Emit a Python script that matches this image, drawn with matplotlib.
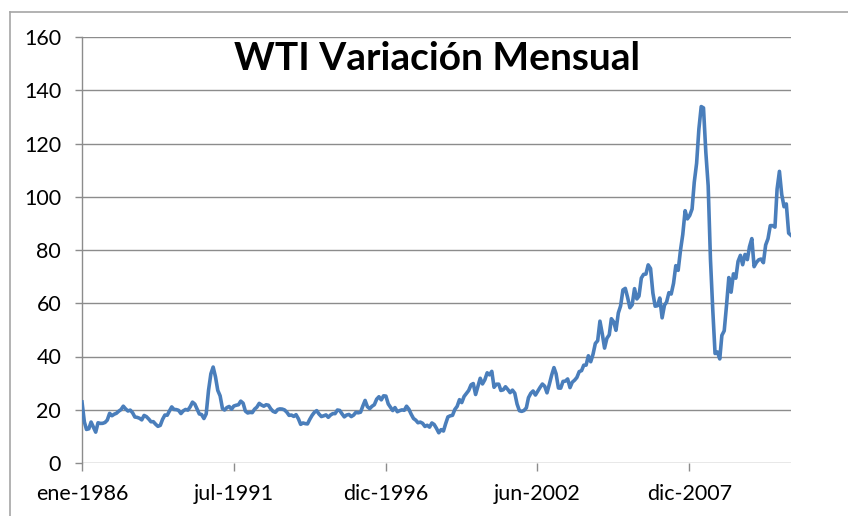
import numpy as np
import matplotlib
matplotlib.use('Agg')
import matplotlib.pyplot as plt
from matplotlib.lines import Line2D

# ── data: WTI monthly average price (USD/bbl), ene-1986 .. sep-2011 ──
wti_1986 = [22.93, 15.46, 12.61, 12.84, 15.38, 13.43, 11.59, 15.10, 14.87, 14.90, 15.22, 16.11]
wti_1987 = [18.65, 17.75, 18.30, 18.68, 19.44, 20.07, 21.34, 20.31, 19.53, 19.86, 18.85, 17.28]
wti_1988 = [17.13, 16.80, 16.20, 17.86, 17.42, 16.53, 15.50, 15.52, 14.54, 13.77, 14.14, 16.38]
wti_1989 = [18.02, 17.94, 19.48, 21.07, 20.12, 20.05, 19.78, 18.58, 19.59, 20.10, 19.86, 21.10]
wti_1990 = [22.86, 22.11, 20.39, 18.43, 18.20, 16.70, 18.45, 27.31, 33.51, 36.04, 32.33, 27.28]
wti_1991 = [25.23, 20.48, 19.90, 20.83, 21.23, 20.19, 21.40, 21.69, 21.89, 23.23, 22.46, 19.50]
wti_1992 = [18.79, 19.01, 18.92, 20.23, 20.98, 22.39, 21.78, 21.34, 21.88, 21.69, 20.34, 19.41]
wti_1993 = [19.03, 20.09, 20.32, 20.25, 19.95, 19.09, 17.89, 18.01, 17.50, 18.15, 16.61, 14.52]
wti_1994 = [15.03, 14.78, 14.68, 16.42, 17.89, 19.06, 19.66, 18.38, 17.45, 17.72, 18.07, 17.16]
wti_1995 = [18.04, 18.57, 18.54, 19.90, 19.74, 18.45, 17.33, 18.02, 18.23, 17.43, 17.99, 19.03]
wti_1996 = [18.85, 19.09, 21.33, 23.50, 21.17, 20.42, 21.30, 21.90, 23.97, 24.88, 23.71, 25.23]
wti_1997 = [25.13, 22.18, 20.97, 19.70, 20.82, 19.26, 19.66, 19.95, 19.80, 21.33, 20.19, 18.33]
wti_1998 = [16.72, 16.06, 15.12, 15.35, 14.91, 13.72, 14.17, 13.47, 15.03, 14.46, 13.00, 11.35]
wti_1999 = [12.52, 12.01, 14.68, 17.31, 17.72, 17.92, 20.10, 21.28, 23.80, 22.69, 25.00, 26.10]
wti_2000 = [27.26, 29.37, 29.84, 25.72, 28.79, 31.82, 29.70, 31.26, 33.88, 33.11, 34.42, 28.44]
wti_2001 = [29.59, 29.61, 27.25, 27.49, 28.63, 27.60, 26.43, 27.37, 26.20, 22.17, 19.64, 19.39]
wti_2002 = [19.72, 20.72, 24.53, 26.18, 27.04, 25.52, 26.97, 28.39, 29.66, 28.84, 26.35, 29.46]
wti_2003 = [32.95, 35.83, 33.51, 28.17, 28.11, 30.66, 30.75, 31.57, 28.31, 30.34, 31.11, 32.13]
wti_2004 = [34.31, 34.69, 36.74, 36.75, 40.28, 38.03, 40.78, 44.90, 45.94, 53.28, 48.47, 43.15]
wti_2005 = [46.84, 48.15, 54.19, 52.98, 49.83, 56.35, 59.00, 64.99, 65.59, 62.26, 58.32, 59.41]
wti_2006 = [65.49, 61.63, 62.69, 69.44, 70.84, 70.95, 74.41, 73.04, 63.80, 58.89, 59.08, 61.96]
wti_2007 = [54.51, 59.28, 60.44, 63.98, 63.46, 67.49, 74.12, 72.36, 79.92, 85.80, 94.77, 91.69]
wti_2008 = [92.97, 95.39, 105.45, 112.58, 125.40, 133.88, 133.37, 116.67, 104.11, 76.61, 57.31, 41.12]
wti_2009 = [41.71, 39.09, 47.94, 49.65, 59.03, 69.64, 64.15, 71.05, 69.41, 75.72, 77.99, 74.47]
wti_2010 = [78.33, 76.39, 81.20, 84.29, 73.74, 75.34, 76.32, 76.60, 75.24, 81.89, 84.25, 89.15]
wti_2011 = [89.17, 88.58, 102.86, 109.53, 100.90, 96.26, 97.30, 86.33, 85.52]

wti = np.array(wti_1986 + wti_1987 + wti_1988 + wti_1989 + wti_1990 + wti_1991
               + wti_1992 + wti_1993 + wti_1994 + wti_1995 + wti_1996 + wti_1997
               + wti_1998 + wti_1999 + wti_2000 + wti_2001 + wti_2002 + wti_2003
               + wti_2004 + wti_2005 + wti_2006 + wti_2007 + wti_2008 + wti_2009
               + wti_2010 + wti_2011)

start = np.datetime64('1986-01-01')
months = np.arange('1986-01', '2011-10', dtype='datetime64[M]')
days = (months.astype('datetime64[D]') - start).astype(int)  # date axis, in days

x_labels = ['ene-1986', 'jul-1991', 'dic-1996', 'jun-2002', 'dic-2007']
label_step_days = 2007  # Excel date-axis major unit
y_ticks = [0, 20, 40, 60, 80, 100, 120, 140, 160]

# ── style ──
plt.rcParams['font.family'] = ['Lato', 'DejaVu Sans']
GRID = '#8c8c8c'
BLUE = '#4a7ebb'

fig = plt.figure(figsize=(8.48, 5.16), dpi=100)
ax = fig.add_axes([82 / 848, 1 - 463 / 516, (791 - 82) / 848, (463 - 37) / 516])

ax.plot(days, wti, color=BLUE, linewidth=2.6, solid_joinstyle='round', zorder=3)

ax.set_xlim(0, days[-1])
ax.set_ylim(0, 160)
ax.set_yticks(y_ticks)
ax.set_xticks([i * label_step_days for i in range(len(x_labels))])
ax.set_xticklabels(x_labels)

ax.grid(axis='y', color=GRID, linewidth=1.0)
ax.set_axisbelow(True)
for side in ['top', 'right', 'bottom']:
    ax.spines[side].set_visible(False)
ax.spines['left'].set_color(GRID)
ax.spines['left'].set_linewidth(1.0)

ax.tick_params(axis='y', length=5, width=1.0, color=GRID, pad=10, labelsize=15.5)
ax.tick_params(axis='x', length=6, width=1.0, color=GRID, pad=9, labelsize=15.5)

ax.set_title('WTI Variación Mensual', fontsize=28, fontweight='bold', y=0.922, pad=0)

# outer chart border (left and top only visible in the crop)
fig.add_artist(Line2D([10 / 848, 10 / 848], [0, 1 - 12 / 516], color='#a6a6a6', linewidth=1.2))
fig.add_artist(Line2D([10 / 848, 1], [1 - 12 / 516, 1 - 12 / 516], color='#a6a6a6', linewidth=1.2))

plt.savefig('out.png', dpi=100)
